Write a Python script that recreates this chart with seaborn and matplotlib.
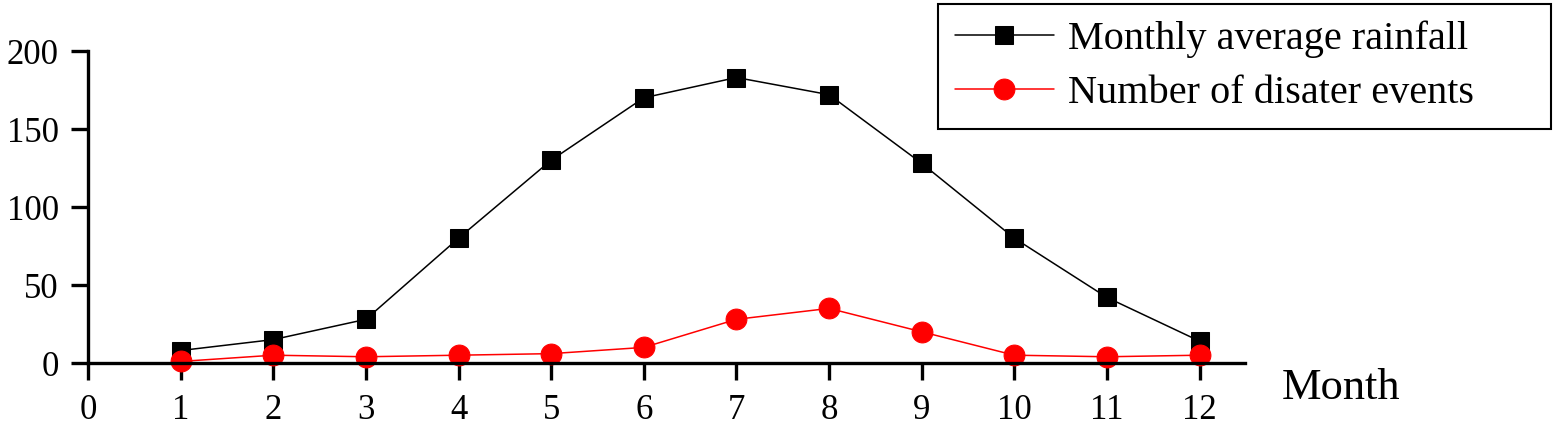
import numpy as np
import pandas as pd
import matplotlib
matplotlib.use("Agg")
import matplotlib.pyplot as plt
import seaborn as sns

months = [1, 2, 3, 4, 5, 6, 7, 8, 9, 10, 11, 12]
rainfall = [8, 15, 28, 80, 130, 170, 183, 172, 128, 80, 42, 14]
disasters = [1, 5, 4, 5, 6, 10, 28, 35, 20, 5, 4, 5]
x_ticks = [0, 1, 2, 3, 4, 5, 6, 7, 8, 9, 10, 11, 12]
y_ticks = [0, 50, 100, 150, 200]

sns.set_style("ticks")
plt.rcParams['font.family'] = ['Liberation Serif', 'DejaVu Serif']
plt.rcParams['text.color'] = 'black'

W, H = 1559, 429
fig = plt.figure(figsize=(W / 100, H / 100), dpi=100)
ax = fig.add_axes([88 / W, 1 - 363 / H, (1245 - 88) / W, (363 - 51) / H])

sns.lineplot(x=months, y=rainfall, ax=ax, color='black', marker='s', markersize=13,
             markeredgecolor='black', linewidth=1.1, label='Monthly average rainfall', clip_on=False)
sns.lineplot(x=months, y=disasters, ax=ax, color='red', marker='o', markersize=15,
             markeredgecolor='red', linewidth=1.1, label='Number of disater events', clip_on=False)

ax.set_xlim(0, 12.49)
ax.set_ylim(0, 200)
ax.set_xticks(x_ticks)
ax.set_yticks(y_ticks)
ax.tick_params(axis='both', labelsize=25, width=2.4, length=12, colors='black')
ax.tick_params(axis='x', pad=10)
ax.tick_params(axis='y', pad=9)
for s in ['top', 'right']:
    ax.spines[s].set_visible(False)
for s in ['left', 'bottom']:
    ax.spines[s].set_linewidth(2.4)
    ax.spines[s].set_color('black')
ax.set_xlabel('')
ax.set_ylabel('')

fig.text(1282 / W, 1 - 388 / H, 'Month', fontsize=32, ha='left', va='center')

leg = ax.legend(loc='upper left', mode='expand',
                bbox_to_anchor=(938 / W, 1 - 128 / H, (1551 - 938) / W, (128 - 4) / H),
                bbox_transform=fig.transFigure,
                fontsize=29, frameon=True, fancybox=False, edgecolor='black', framealpha=1,
                handlelength=2.45, borderpad=0.42, labelspacing=0.4, handletextpad=0.37,
                borderaxespad=0)
leg.get_frame().set_linewidth(1.5)

fig.savefig('out.png', dpi=100)
